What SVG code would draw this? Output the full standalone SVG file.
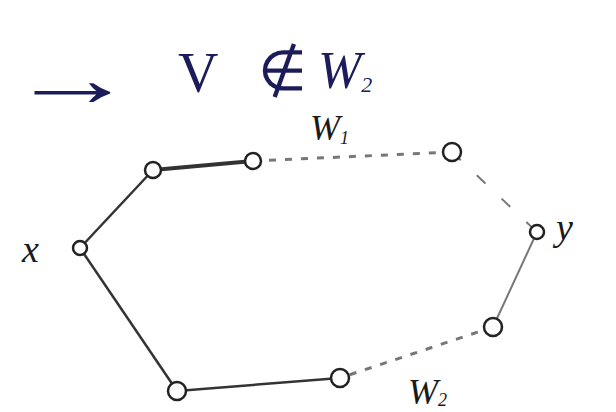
<svg xmlns="http://www.w3.org/2000/svg" width="616" height="412" viewBox="0 0 616 412">
<style>
.n{fill:#fff;stroke:#222;stroke-width:2.5}
.e{stroke:#333;stroke-width:2.5;fill:none}
.d{stroke:#777;stroke-width:3;fill:none;stroke-dasharray:7 9}
.t{font-family:"Liberation Serif",serif;fill:#1a1a1a}
.h{font-family:"Liberation Serif",serif;fill:#1c1c5a}
</style>
<rect width="616" height="412" fill="#fff"/>
<g id="connectors">
<line class="e" x1="80" y1="248" x2="153" y2="170"/>
<line class="e" x1="153" y1="170" x2="253" y2="161" style="stroke-width:4"/>
<line class="d" x1="253" y1="161" x2="452" y2="152"/>
<line class="d" x1="452" y1="152" x2="537" y2="232" style="stroke-dasharray:12 22;stroke-width:2"/>
<line class="e" x1="537" y1="232" x2="493" y2="327" style="stroke:#777;stroke-width:2"/>
<line class="d" x1="493" y1="327" x2="340" y2="378"/>
<line class="e" x1="340" y1="378" x2="177" y2="391"/>
<line class="e" x1="177" y1="391" x2="80" y2="248"/>
</g>
<g id="x"><circle class="n" cx="80" cy="248" r="7"/><text class="t" x="22" y="262" font-size="38" font-style="italic">x</text></g>
<g id="a"><circle class="n" cx="153" cy="170" r="8"/></g>
<g id="b"><circle class="n" cx="253" cy="161" r="8"/></g>
<g id="c"><circle class="n" cx="452" cy="152" r="9"/></g>
<g id="y"><circle class="n" cx="537" cy="232" r="7"/><text class="t" x="556" y="240" font-size="38" font-style="italic">y</text></g>
<g id="e"><circle class="n" cx="493" cy="327" r="9"/></g>
<g id="f"><circle class="n" cx="340" cy="378" r="9"/></g>
<g id="g"><circle class="n" cx="177" cy="391" r="9"/></g>
<g id="w1"><text class="t" x="310" y="140" font-size="36" font-style="italic">W<tspan font-size="18" dy="4">1</tspan></text></g>
<g id="w2"><text class="t" x="408" y="404" font-size="36" font-style="italic">W<tspan font-size="18" dy="2">2</tspan></text></g>
<g id="title"><text class="h" transform="translate(8,106) scale(1.6,1)" x="0" y="0" font-size="80" font-weight="bold">→</text><text class="h" x="178" y="92" font-size="56">V</text><text class="h" x="258" y="90" font-size="56">∉</text><text class="h" x="318" y="88" font-size="52" font-style="italic">W<tspan font-size="22" dy="4">2</tspan></text></g>
</svg>
